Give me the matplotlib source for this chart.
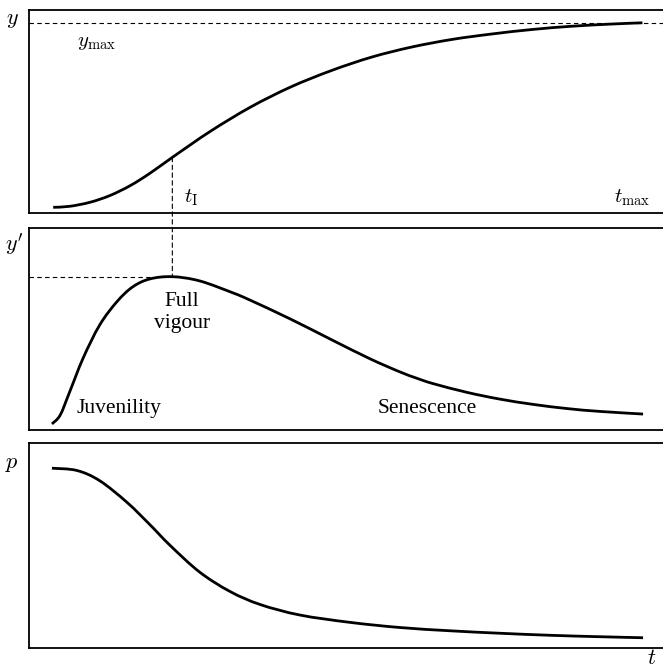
import matplotlib
matplotlib.use("Agg")
import matplotlib.pyplot as plt
from matplotlib.patches import ConnectionPatch, PathPatch
from matplotlib.path import Path

plt.rcParams["mathtext.fontset"] = "cm"
plt.rcParams["font.family"] = ["Liberation Serif", "DejaVu Serif"]

# Cumulative growth y(t)
t_growth = [0.38, 0.64, 0.96, 1.27, 1.59, 1.90, 2.25, 2.85, 3.48, 4.11, 4.75,
            5.38, 6.00, 6.64, 7.27, 7.90, 8.52, 9.16, 9.63]
y_growth = [0.028, 0.033, 0.053, 0.086, 0.135, 0.196, 0.274, 0.403, 0.522, 0.621,
            0.702, 0.768, 0.817, 0.855, 0.882, 0.904, 0.920, 0.931, 0.937]

# Growth rate y'(t)
t_rate = [0.36, 0.49, 0.64, 0.85, 1.11, 1.38, 1.63, 1.90, 2.25, 2.68, 3.20, 3.47,
          4.10, 4.73, 5.35, 5.82, 6.09, 6.34, 6.88, 7.39, 7.91, 8.45, 8.96, 9.64]
y_rate = [0.030, 0.074, 0.190, 0.356, 0.520, 0.635, 0.709, 0.748, 0.759, 0.738,
          0.679, 0.643, 0.550, 0.450, 0.353, 0.288, 0.256, 0.230, 0.186, 0.153,
          0.127, 0.106, 0.092, 0.079]

# Relative growth p(t)
t_rel = [0.36, 0.75, 1.11, 1.54, 1.90, 2.21, 2.68, 3.16, 3.63, 4.25, 5.04, 5.82,
         6.61, 7.39, 8.18, 8.96, 9.64]
p_rel = [0.877, 0.866, 0.816, 0.710, 0.601, 0.502, 0.370, 0.275, 0.212, 0.161,
         0.125, 0.100, 0.084, 0.072, 0.062, 0.055, 0.050]

y_max = 0.937
t_infl = 2.25
y_infl = 0.274
rate_peak = 0.759

W, H = 663, 668
fig = plt.figure(figsize=(W / 100, H / 100), dpi=100)

left = 29 / W
width = (666 - 29) / W


def panel(top_px, bottom_px):
    ax = fig.add_axes([left, 1 - bottom_px / H, width, (bottom_px - top_px) / H])
    ax.set_xlim(0, 10)
    ax.set_ylim(0, 1)
    ax.set_xticks([])
    ax.set_yticks([])
    for s in ax.spines.values():
        s.set_linewidth(1.3)
    return ax


def smooth_curve(ax, xs, ys):
    """Draw a smooth Catmull-Rom style Bezier path through the given points."""
    pts = list(zip(xs, ys))
    n = len(pts)
    verts = [pts[0]]
    codes = [Path.MOVETO]
    for i in range(n - 1):
        p0 = pts[i - 1] if i > 0 else pts[i]
        p1 = pts[i]
        p2 = pts[i + 1]
        p3 = pts[i + 2] if i + 2 < n else pts[i + 1]
        c1 = (p1[0] + (p2[0] - p0[0]) / 6, p1[1] + (p2[1] - p0[1]) / 6)
        c2 = (p2[0] - (p3[0] - p1[0]) / 6, p2[1] - (p3[1] - p1[1]) / 6)
        verts += [c1, c2, p2]
        codes += [Path.CURVE4] * 3
    patch = PathPatch(Path(verts, codes), fill=False, edgecolor="black",
                      lw=2.0, capstyle="butt")
    ax.add_patch(patch)


ax1 = panel(10, 213)
ax2 = panel(228, 430)
ax3 = panel(443, 648)

dash_kw = dict(color="black", lw=0.8, ls=(0, (4, 3)))
txt = 15.5

smooth_curve(ax1, t_growth, y_growth)
ax1.axhline(y_max, **dash_kw)
ax1.text(0.75, 0.842, r"$y_{\rm max}$", fontsize=15, va="center", ha="left")
ax1.text(2.43, 0.074, r"$t_{\rm I}$", fontsize=15, va="center", ha="left")
ax1.text(9.75, 0.074, r"$t_{\rm max}$", fontsize=15, va="center", ha="right")

smooth_curve(ax2, t_rate, y_rate)
ax2.plot([0, t_infl], [rate_peak, rate_peak], **dash_kw)
ax2.text(2.40, 0.582, "Full\nvigour", fontsize=txt, ha="center", va="center",
         linespacing=1.25)
ax2.text(0.75, 0.104, "Juvenility", fontsize=txt, ha="left", va="center")
ax2.text(5.48, 0.104, "Senescence", fontsize=txt, ha="left", va="center")

smooth_curve(ax3, t_rel, p_rel)

# Link the inflection point of y to the peak of y'
con = ConnectionPatch(xyA=(t_infl, y_infl), coordsA=ax1.transData,
                      xyB=(t_infl, rate_peak), coordsB=ax2.transData,
                      **dash_kw)
fig.add_artist(con)

fig.text(12 / W, 1 - 20 / H, r"$y$", fontsize=16, ha="center", va="center")
fig.text(14 / W, 1 - 244 / H, r"$y'$", fontsize=16, ha="center", va="center")
fig.text(12 / W, 1 - 465 / H, r"$p$", fontsize=16, ha="center", va="center")
fig.text(652 / W, 1 - 660 / H, r"$t$", fontsize=16, ha="center", va="center")

fig.savefig("out.png", dpi=100)
